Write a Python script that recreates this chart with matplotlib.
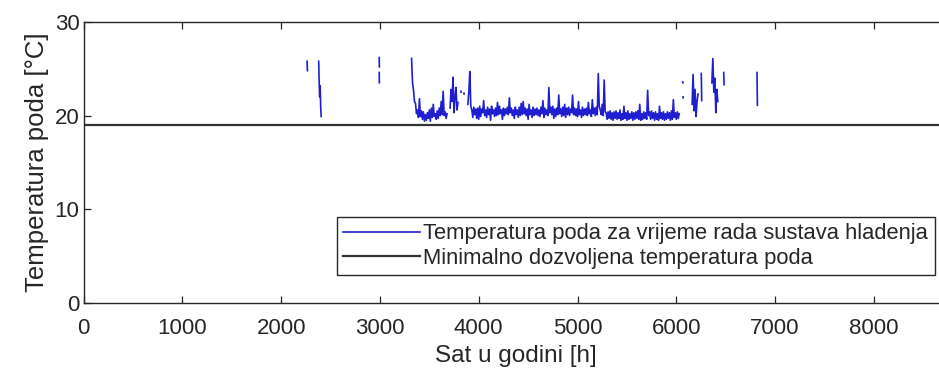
import numpy as np
import matplotlib
matplotlib.use("Agg")
import matplotlib.pyplot as plt

plt.rcParams['font.family'] = ['Liberation Sans', 'DejaVu Sans']

# floor temperature while cooling is running, pieces split by NaN gaps
# each piece: (start hour, step in hours, temperatures)
pieces = [
    (2262, 4, [25.8, 24.8]),
    (2380, 5, [25.8, 23.5, 22.0, 23.2, 21.0, 19.9]),
    (2993, 1, [26.2, 25.2]),
    (2993, 1, [24.6, 23.5]),
    (3320, 10, [26.1, 23.5, 22.7, 21.5, 21.3, 20.2, 20.6, 19.8, 21.8, 19.9,
                20.5, 19.6, 20.4, 19.4, 20.1, 19.5, 20.3, 19.7, 20.6, 19.4,
                20.8, 19.8, 21.2, 19.9, 20.2, 19.6, 20.5, 19.7, 20.8, 20.0,
                21.5, 20.1, 22.6, 20.0, 20.4, 19.7, 20.2]),
    (3710, 10, [20.8, 22.8, 21.5, 24.1, 20.3, 22.0, 23.0, 20.6, 21.4]),
    (3820, 2, [22.6, 22.5]),
    (3850, 2, [22.4, 22.3]),
    (3890, 10, [21.2, 22.5, 24.7, 21.0, 20.6, 19.8, 20.9, 20.1, 20.7, 19.7,
                20.8, 19.6, 21.0, 19.9, 20.7, 20.3, 21.6, 20.0, 20.6, 19.8,
                20.9, 20.1, 20.7, 19.5, 21.0, 20.2, 20.6, 19.9, 20.8, 20.0,
                21.4, 20.1, 21.0, 20.2, 20.6, 19.6, 20.8, 20.0, 20.7, 20.2,
                20.9, 20.1, 21.9, 20.3, 20.8, 20.0, 20.6, 19.7, 20.9, 20.1,
                20.6, 19.8, 20.9, 20.0, 21.3, 20.1, 21.5, 20.2, 20.8, 20.0,
                20.7, 19.6, 21.2, 20.1, 20.6, 19.8, 20.9, 20.0, 20.7, 20.1,
                20.8, 20.0, 20.6, 19.9, 20.9, 20.2, 21.6, 19.8, 20.8, 20.1,
                20.6, 20.0, 23.0, 20.3, 20.9, 20.1, 21.0, 19.7, 20.7, 19.9,
                20.8, 20.1, 22.2, 20.2, 20.7, 19.9, 20.9, 20.0, 21.2, 19.8,
                20.8, 20.1, 20.9, 20.0, 20.7, 20.3, 22.2, 20.1, 20.8, 20.0,
                20.7, 19.9, 21.5, 20.1, 20.6, 19.8, 20.9, 20.0, 20.7, 20.1,
                20.8, 20.0, 21.4, 20.2, 20.6, 19.9, 21.7, 20.2, 20.8, 20.0,
                20.9, 20.1, 24.5, 21.0, 20.6, 20.1, 21.2, 20.0, 23.8, 20.4,
                20.3, 19.6, 20.4, 19.7, 20.5, 19.6, 20.3, 19.5, 20.4, 19.7,
                20.5, 19.6, 20.3, 19.7, 20.6, 19.5, 20.2, 19.6, 21.0, 19.7,
                20.3, 19.5, 20.5, 19.6, 20.2, 19.7, 20.4, 19.5, 20.3, 19.6,
                20.4, 19.7, 20.5, 19.6, 21.2, 19.5, 20.2, 19.6, 20.4, 19.7,
                20.3, 19.6, 22.7, 20.0, 20.4, 19.6, 20.5, 19.7, 20.3, 19.5,
                20.4, 19.6, 20.2, 19.5, 21.0, 19.7, 20.3, 19.6, 20.4, 19.5,
                20.2, 19.6, 20.4, 19.7, 20.3, 19.5, 20.5, 19.6, 21.7, 19.8,
                20.3, 19.6, 20.4, 19.7, 20.2]),
    (6065, 2, [23.6, 23.5]),
    (6068, 2, [22.0, 21.9]),
    (6160, 10, [21.2, 24.4, 20.5, 22.8, 19.9, 21.5, 22.3]),
    (6253, 4, [24.5, 21.6]),
    (6360, 10, [23.5, 26.1, 22.5, 24.0, 20.3, 22.8, 21.5]),
    (6480, 4, [24.6, 23.3]),
    (6817, 4, [24.6, 21.1]),
]
t_min = 19.0
x_max = 8760
x_ticks = [0, 1000, 2000, 3000, 4000, 5000, 6000, 7000, 8000]
y_ticks = [0, 10, 20, 30]

hours = []
temps = []
for start, step, vals in pieces:
    for i, v in enumerate(vals):
        hours.append(start + step * i)
        temps.append(v)
    hours.append(np.nan)
    temps.append(np.nan)

fig = plt.figure(figsize=(9.39, 3.8), dpi=100)
ax = fig.add_axes([0.089, 0.2034, 0.9216, 0.7387])

ax.plot(hours, temps, color='#1f1fd0', lw=1.2,
        label='Temperatura poda za vrijeme rada sustava hladenja')
ax.axhline(t_min, color='#333333', lw=1.6,
           label='Minimalno dozvoljena temperatura poda')

ax.set_xlim(0, x_max)
ax.set_ylim(0, 30)
ax.set_xticks(x_ticks)
ax.set_yticks(y_ticks)

dark = '#262626'
for s in ax.spines.values():
    s.set_color(dark)
    s.set_linewidth(1.0)
ax.tick_params(direction='in', length=5, width=0.9, colors=dark,
               labelsize=16, top=True, right=True)
ax.tick_params(axis='x', pad=11)
ax.tick_params(axis='y', pad=3)

ax.set_xlabel('Sat u godini [h]', fontsize=17.5, color=dark, labelpad=4)
ax.set_ylabel('Temperatura poda [°C]', fontsize=18.5, color=dark, labelpad=4)

leg = ax.legend(loc='upper left', bbox_to_anchor=(336.7 / 939, 1 - 216.7 / 380),
                bbox_transform=fig.transFigure, borderaxespad=0,
                fontsize=15.8, handlelength=3.5, handletextpad=0.15,
                labelspacing=0.15, borderpad=0.3, fancybox=False,
                framealpha=1)
leg.get_frame().set_edgecolor(dark)
leg.get_frame().set_linewidth(1.0)
for txt in leg.get_texts():
    txt.set_color(dark)

fig.savefig('out.png', dpi=100)
